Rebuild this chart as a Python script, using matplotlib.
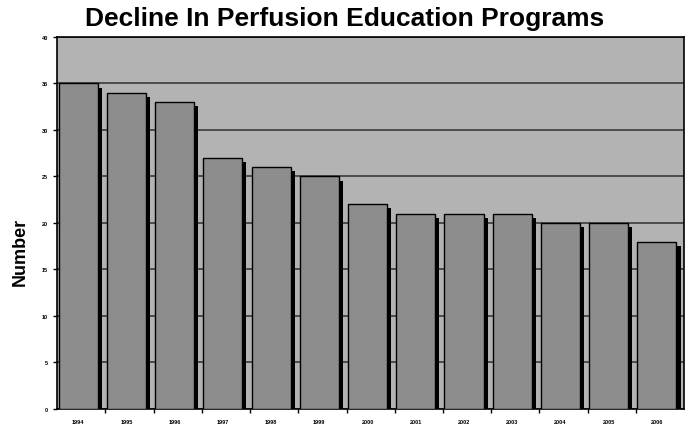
import matplotlib
matplotlib.use("Agg")
import matplotlib.pyplot as plt

years = ["1994", "1995", "1996", "1997", "1998", "1999", "2000",
         "2001", "2002", "2003", "2004", "2005", "2006"]
programs = [35, 34, 33, 27, 26, 25, 22, 21, 21, 21, 20, 20, 18]
yticks = [0, 5, 10, 15, 20, 25, 30, 35, 40]

plt.rcParams['font.family'] = ['Liberation Sans', 'DejaVu Sans']
fig = plt.figure(figsize=(6.89, 4.31), dpi=100)
ax = fig.add_axes([0.083, 0.049, 0.910, 0.863])
ax.set_facecolor('#b3b3b3')

x = list(range(len(years)))
width = 0.81
off = -0.065
dx = 0.085
dy = 0.45
ax.set_axisbelow(True)
ax.yaxis.grid(True, color='#3a3a3a', linewidth=1.2)
ax.bar([i + off + dx for i in x], [v - dy for v in programs], width=width,
       color='black', zorder=2)
ax.bar([i + off for i in x], programs, width=width, color='#8d8d8d',
       edgecolor='black', linewidth=1.0, zorder=3)

ax.set_xlim(-0.5, len(years) - 0.5)
ax.set_ylim(0, 40)
ax.set_yticks(yticks)
ax.set_yticklabels([str(t) for t in yticks], fontsize=4, fontweight='bold')
ax.set_xticks([i + off for i in x])
ax.set_xticklabels(years, fontsize=4, fontweight='bold')
ax.set_xticks([i + 0.5 for i in x[:-1]], minor=True)
ax.tick_params(axis='x', which='major', length=0, pad=7)
ax.tick_params(axis='x', which='minor', length=3, width=1)
ax.tick_params(axis='y', length=3, width=1)
for s in ax.spines.values():
    s.set_linewidth(1.2)
fig.text(0.029, 0.415, "Number", rotation=90, ha='center', va='center',
         fontsize=13, fontweight='bold')
fig.text(0.5, 0.955, "Decline In Perfusion Education Programs",
         ha='center', va='center', fontsize=19, fontweight='bold')
fig.savefig("out.png", dpi=100)
